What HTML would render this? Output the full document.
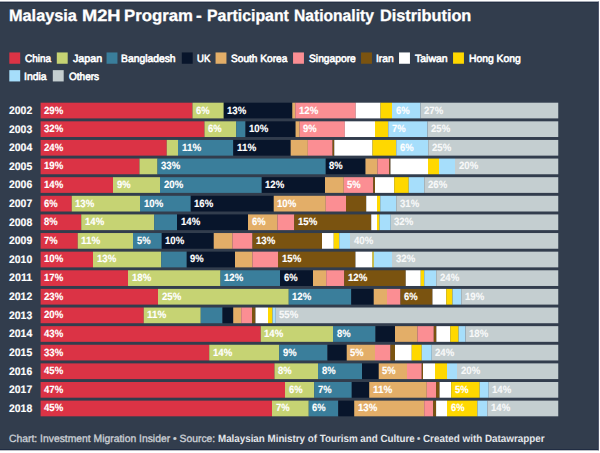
<!DOCTYPE html>
<html><head><meta charset="utf-8"><title>Malaysia M2H Program</title>
<style>
html,body{margin:0;padding:0;}
body{width:600px;height:453px;background:#fff;overflow:hidden;position:relative;font-family:"Liberation Sans",sans-serif;text-rendering:geometricPrecision;}
#c{position:absolute;left:0;top:0;width:600px;height:453px;background:#323d4d;}
#c div,#c span{position:absolute;white-space:nowrap;}
.t{top:6.5px;font-size:16.4px;-webkit-text-stroke:0.3px #fff;font-weight:bold;color:#fff;line-height:18px;transform-origin:0 0;}
.sw{width:10.5px;height:10.5px;}
.lt{font-size:10.5px;color:#fff;-webkit-text-stroke:0.6px #fff;line-height:12px;transform-origin:0 0;}
.y{font-size:10.9px;font-weight:bold;color:#fff;-webkit-text-stroke:0.15px #fff;line-height:12px;left:9.3px;transform-origin:0 0;}
.s{height:15.7px;}
.l{font-size:10.5px;font-weight:bold;color:#fff;-webkit-text-stroke:0.15px #fff;line-height:12px;transform-origin:0 0;}
.f{top:432.7px;font-size:10.5px;color:#c9ced4;-webkit-text-stroke:0.35px #c9ced4;line-height:13px;transform-origin:0 0;}
.fb{color:#e3e6ea;font-weight:bold;-webkit-text-stroke:0;}
</style></head><body><div id="c">
<svg width="600" height="453" viewBox="0 0 600 453" style="position:absolute;left:0;top:0"><rect x="0" y="0" width="600" height="2.6" fill="#1d2840"/><rect x="0" y="0" width="600" height="1.6" fill="#fff"/><rect x="0" y="449.2" width="600" height="3.8" fill="#1d2840"/><rect x="0" y="450.3" width="600" height="2.7" fill="#fff"/><rect x="597.9" y="1.6" width="2.1" height="448.7" fill="#262f48"/><rect x="598.8" y="0" width="1.2" height="453" fill="#fff"/><rect x="9.30" y="52.45" width="10.9" height="11.3" fill="#db3345"/><rect x="56.80" y="52.45" width="10.9" height="11.3" fill="#c6d373"/><rect x="106.55" y="52.45" width="10.9" height="11.3" fill="#3a7e9b"/><rect x="181.80" y="52.45" width="10.9" height="11.3" fill="#08152b"/><rect x="215.55" y="52.45" width="10.9" height="11.3" fill="#e3ae68"/><rect x="293.05" y="52.45" width="10.9" height="11.3" fill="#fb8e93"/><rect x="361.05" y="52.45" width="10.9" height="11.3" fill="#7a5310"/><rect x="399.05" y="52.45" width="10.9" height="11.3" fill="#ffffff"/><rect x="453.05" y="52.45" width="10.9" height="11.3" fill="#ffd800"/><rect x="9.30" y="70.15" width="10.9" height="11.3" fill="#a6defb"/><rect x="52.80" y="70.15" width="10.9" height="11.3" fill="#c4ced0"/><rect x="40.60" y="102.70" width="151.90" height="15.7" fill="#db3345"/><rect x="192.50" y="102.70" width="31.25" height="15.7" fill="#c6d373"/><rect x="223.75" y="102.70" width="68.55" height="15.7" fill="#08152b"/><rect x="292.30" y="102.70" width="3.00" height="15.7" fill="#e3ae68"/><rect x="295.30" y="102.70" width="60.45" height="15.7" fill="#fb8e93"/><rect x="355.75" y="102.70" width="24.75" height="15.7" fill="#ffffff"/><rect x="380.50" y="102.70" width="11.50" height="15.7" fill="#ffd800"/><rect x="392.00" y="102.70" width="28.50" height="15.7" fill="#a6defb"/><rect x="420.50" y="102.70" width="137.75" height="15.7" fill="#c4ced0"/><rect x="40.60" y="121.32" width="163.90" height="15.7" fill="#db3345"/><rect x="204.50" y="121.32" width="31.75" height="15.7" fill="#c6d373"/><rect x="236.25" y="121.32" width="9.25" height="15.7" fill="#3a7e9b"/><rect x="245.50" y="121.32" width="50.10" height="15.7" fill="#08152b"/><rect x="295.60" y="121.32" width="4.00" height="15.7" fill="#e3ae68"/><rect x="299.60" y="121.32" width="45.25" height="15.7" fill="#fb8e93"/><rect x="344.85" y="121.32" width="30.15" height="15.7" fill="#ffffff"/><rect x="375.00" y="121.32" width="13.25" height="15.7" fill="#ffd800"/><rect x="388.25" y="121.32" width="39.25" height="15.7" fill="#a6defb"/><rect x="427.50" y="121.32" width="130.75" height="15.7" fill="#c4ced0"/><rect x="40.60" y="139.94" width="126.15" height="15.7" fill="#db3345"/><rect x="166.75" y="139.94" width="11.25" height="15.7" fill="#c6d373"/><rect x="178.00" y="139.94" width="55.25" height="15.7" fill="#3a7e9b"/><rect x="233.25" y="139.94" width="57.45" height="15.7" fill="#08152b"/><rect x="290.70" y="139.94" width="17.15" height="15.7" fill="#e3ae68"/><rect x="307.85" y="139.94" width="24.75" height="15.7" fill="#fb8e93"/><rect x="332.60" y="139.94" width="1.70" height="15.7" fill="#7a5310"/><rect x="334.30" y="139.94" width="38.20" height="15.7" fill="#ffffff"/><rect x="372.50" y="139.94" width="23.75" height="15.7" fill="#ffd800"/><rect x="396.25" y="139.94" width="32.00" height="15.7" fill="#a6defb"/><rect x="428.25" y="139.94" width="130.00" height="15.7" fill="#c4ced0"/><rect x="40.60" y="158.56" width="98.90" height="15.7" fill="#db3345"/><rect x="139.50" y="158.56" width="18.00" height="15.7" fill="#c6d373"/><rect x="157.50" y="158.56" width="168.25" height="15.7" fill="#3a7e9b"/><rect x="325.75" y="158.56" width="39.75" height="15.7" fill="#08152b"/><rect x="365.50" y="158.56" width="12.00" height="15.7" fill="#e3ae68"/><rect x="377.50" y="158.56" width="11.75" height="15.7" fill="#fb8e93"/><rect x="389.25" y="158.56" width="1.25" height="15.7" fill="#7a5310"/><rect x="390.50" y="158.56" width="37.50" height="15.7" fill="#ffffff"/><rect x="428.00" y="158.56" width="11.00" height="15.7" fill="#ffd800"/><rect x="439.00" y="158.56" width="16.00" height="15.7" fill="#a6defb"/><rect x="455.00" y="158.56" width="103.25" height="15.7" fill="#c4ced0"/><rect x="40.60" y="177.18" width="72.40" height="15.7" fill="#db3345"/><rect x="113.00" y="177.18" width="47.00" height="15.7" fill="#c6d373"/><rect x="160.00" y="177.18" width="101.75" height="15.7" fill="#3a7e9b"/><rect x="261.75" y="177.18" width="63.25" height="15.7" fill="#08152b"/><rect x="325.00" y="177.18" width="18.75" height="15.7" fill="#e3ae68"/><rect x="343.75" y="177.18" width="29.50" height="15.7" fill="#fb8e93"/><rect x="373.25" y="177.18" width="1.75" height="15.7" fill="#7a5310"/><rect x="375.00" y="177.18" width="19.25" height="15.7" fill="#ffffff"/><rect x="394.25" y="177.18" width="14.50" height="15.7" fill="#ffd800"/><rect x="408.75" y="177.18" width="15.50" height="15.7" fill="#a6defb"/><rect x="424.25" y="177.18" width="134.00" height="15.7" fill="#c4ced0"/><rect x="40.60" y="195.80" width="31.15" height="15.7" fill="#db3345"/><rect x="71.75" y="195.80" width="68.25" height="15.7" fill="#c6d373"/><rect x="140.00" y="195.80" width="50.75" height="15.7" fill="#3a7e9b"/><rect x="190.75" y="195.80" width="83.00" height="15.7" fill="#08152b"/><rect x="273.75" y="195.80" width="52.00" height="15.7" fill="#e3ae68"/><rect x="325.75" y="195.80" width="20.25" height="15.7" fill="#fb8e93"/><rect x="346.00" y="195.80" width="20.25" height="15.7" fill="#7a5310"/><rect x="366.25" y="195.80" width="10.75" height="15.7" fill="#ffffff"/><rect x="377.00" y="195.80" width="3.25" height="15.7" fill="#ffd800"/><rect x="380.25" y="195.80" width="16.00" height="15.7" fill="#a6defb"/><rect x="396.25" y="195.80" width="162.00" height="15.7" fill="#c4ced0"/><rect x="40.60" y="214.42" width="40.65" height="15.7" fill="#db3345"/><rect x="81.25" y="214.42" width="73.00" height="15.7" fill="#c6d373"/><rect x="154.25" y="214.42" width="22.75" height="15.7" fill="#3a7e9b"/><rect x="177.00" y="214.42" width="71.00" height="15.7" fill="#08152b"/><rect x="248.00" y="214.42" width="29.50" height="15.7" fill="#e3ae68"/><rect x="277.50" y="214.42" width="16.75" height="15.7" fill="#fb8e93"/><rect x="294.25" y="214.42" width="77.00" height="15.7" fill="#7a5310"/><rect x="371.25" y="214.42" width="5.75" height="15.7" fill="#ffffff"/><rect x="377.00" y="214.42" width="2.50" height="15.7" fill="#ffd800"/><rect x="379.50" y="214.42" width="11.25" height="15.7" fill="#a6defb"/><rect x="390.75" y="214.42" width="167.50" height="15.7" fill="#c4ced0"/><rect x="40.60" y="233.04" width="37.15" height="15.7" fill="#db3345"/><rect x="77.75" y="233.04" width="55.25" height="15.7" fill="#c6d373"/><rect x="133.00" y="233.04" width="28.75" height="15.7" fill="#3a7e9b"/><rect x="161.75" y="233.04" width="52.00" height="15.7" fill="#08152b"/><rect x="213.75" y="233.04" width="18.75" height="15.7" fill="#e3ae68"/><rect x="232.50" y="233.04" width="20.00" height="15.7" fill="#fb8e93"/><rect x="252.50" y="233.04" width="69.50" height="15.7" fill="#7a5310"/><rect x="322.00" y="233.04" width="11.75" height="15.7" fill="#ffffff"/><rect x="333.75" y="233.04" width="5.50" height="15.7" fill="#ffd800"/><rect x="339.25" y="233.04" width="10.75" height="15.7" fill="#a6defb"/><rect x="350.00" y="233.04" width="208.25" height="15.7" fill="#c4ced0"/><rect x="40.60" y="251.66" width="52.40" height="15.7" fill="#db3345"/><rect x="93.00" y="251.66" width="68.25" height="15.7" fill="#c6d373"/><rect x="161.25" y="251.66" width="25.50" height="15.7" fill="#3a7e9b"/><rect x="186.75" y="251.66" width="48.25" height="15.7" fill="#08152b"/><rect x="235.00" y="251.66" width="17.50" height="15.7" fill="#e3ae68"/><rect x="252.50" y="251.66" width="25.50" height="15.7" fill="#fb8e93"/><rect x="278.00" y="251.66" width="77.50" height="15.7" fill="#7a5310"/><rect x="355.50" y="251.66" width="17.00" height="15.7" fill="#ffffff"/><rect x="372.50" y="251.66" width="1.25" height="15.7" fill="#ffd800"/><rect x="373.75" y="251.66" width="18.25" height="15.7" fill="#a6defb"/><rect x="392.00" y="251.66" width="166.25" height="15.7" fill="#c4ced0"/><rect x="40.60" y="270.28" width="87.40" height="15.7" fill="#db3345"/><rect x="128.00" y="270.28" width="92.50" height="15.7" fill="#c6d373"/><rect x="220.50" y="270.28" width="59.50" height="15.7" fill="#3a7e9b"/><rect x="280.00" y="270.28" width="33.00" height="15.7" fill="#08152b"/><rect x="313.00" y="270.28" width="13.25" height="15.7" fill="#e3ae68"/><rect x="326.25" y="270.28" width="18.00" height="15.7" fill="#fb8e93"/><rect x="344.25" y="270.28" width="61.50" height="15.7" fill="#7a5310"/><rect x="405.75" y="270.28" width="15.00" height="15.7" fill="#ffffff"/><rect x="420.75" y="270.28" width="3.50" height="15.7" fill="#ffd800"/><rect x="424.25" y="270.28" width="12.00" height="15.7" fill="#a6defb"/><rect x="436.25" y="270.28" width="122.00" height="15.7" fill="#c4ced0"/><rect x="40.60" y="288.90" width="117.40" height="15.7" fill="#db3345"/><rect x="158.00" y="288.90" width="130.75" height="15.7" fill="#c6d373"/><rect x="288.75" y="288.90" width="62.50" height="15.7" fill="#3a7e9b"/><rect x="351.25" y="288.90" width="22.50" height="15.7" fill="#08152b"/><rect x="373.75" y="288.90" width="13.25" height="15.7" fill="#e3ae68"/><rect x="387.00" y="288.90" width="13.50" height="15.7" fill="#fb8e93"/><rect x="400.50" y="288.90" width="32.00" height="15.7" fill="#7a5310"/><rect x="432.50" y="288.90" width="13.75" height="15.7" fill="#ffffff"/><rect x="446.25" y="288.90" width="6.25" height="15.7" fill="#ffd800"/><rect x="452.50" y="288.90" width="8.75" height="15.7" fill="#a6defb"/><rect x="461.25" y="288.90" width="97.00" height="15.7" fill="#c4ced0"/><rect x="40.60" y="307.52" width="103.15" height="15.7" fill="#db3345"/><rect x="143.75" y="307.52" width="57.00" height="15.7" fill="#c6d373"/><rect x="200.75" y="307.52" width="21.75" height="15.7" fill="#3a7e9b"/><rect x="222.50" y="307.52" width="10.75" height="15.7" fill="#08152b"/><rect x="233.25" y="307.52" width="8.00" height="15.7" fill="#e3ae68"/><rect x="241.25" y="307.52" width="10.75" height="15.7" fill="#fb8e93"/><rect x="252.00" y="307.52" width="3.50" height="15.7" fill="#7a5310"/><rect x="255.50" y="307.52" width="12.50" height="15.7" fill="#ffffff"/><rect x="268.00" y="307.52" width="4.50" height="15.7" fill="#ffd800"/><rect x="272.50" y="307.52" width="3.25" height="15.7" fill="#a6defb"/><rect x="275.75" y="307.52" width="282.50" height="15.7" fill="#c4ced0"/><rect x="40.60" y="326.14" width="220.15" height="15.7" fill="#db3345"/><rect x="260.75" y="326.14" width="72.25" height="15.7" fill="#c6d373"/><rect x="333.00" y="326.14" width="42.50" height="15.7" fill="#3a7e9b"/><rect x="375.50" y="326.14" width="19.50" height="15.7" fill="#08152b"/><rect x="395.00" y="326.14" width="22.50" height="15.7" fill="#e3ae68"/><rect x="417.50" y="326.14" width="16.30" height="15.7" fill="#fb8e93"/><rect x="433.80" y="326.14" width="2.60" height="15.7" fill="#7a5310"/><rect x="436.40" y="326.14" width="13.90" height="15.7" fill="#ffffff"/><rect x="450.30" y="326.14" width="8.30" height="15.7" fill="#ffd800"/><rect x="458.60" y="326.14" width="6.90" height="15.7" fill="#a6defb"/><rect x="465.50" y="326.14" width="92.75" height="15.7" fill="#c4ced0"/><rect x="40.60" y="344.76" width="168.65" height="15.7" fill="#db3345"/><rect x="209.25" y="344.76" width="70.00" height="15.7" fill="#c6d373"/><rect x="279.25" y="344.76" width="48.25" height="15.7" fill="#3a7e9b"/><rect x="327.50" y="344.76" width="19.25" height="15.7" fill="#08152b"/><rect x="346.75" y="344.76" width="28.25" height="15.7" fill="#e3ae68"/><rect x="375.00" y="344.76" width="15.50" height="15.7" fill="#fb8e93"/><rect x="390.50" y="344.76" width="4.50" height="15.7" fill="#7a5310"/><rect x="395.00" y="344.76" width="16.75" height="15.7" fill="#ffffff"/><rect x="411.75" y="344.76" width="10.00" height="15.7" fill="#ffd800"/><rect x="421.75" y="344.76" width="10.00" height="15.7" fill="#a6defb"/><rect x="431.75" y="344.76" width="126.50" height="15.7" fill="#c4ced0"/><rect x="40.60" y="363.38" width="233.90" height="15.7" fill="#db3345"/><rect x="274.50" y="363.38" width="43.50" height="15.7" fill="#c6d373"/><rect x="318.00" y="363.38" width="44.00" height="15.7" fill="#3a7e9b"/><rect x="362.00" y="363.38" width="16.75" height="15.7" fill="#08152b"/><rect x="378.75" y="363.38" width="28.25" height="15.7" fill="#e3ae68"/><rect x="407.00" y="363.38" width="14.75" height="15.7" fill="#fb8e93"/><rect x="421.75" y="363.38" width="1.25" height="15.7" fill="#7a5310"/><rect x="423.00" y="363.38" width="12.00" height="15.7" fill="#ffffff"/><rect x="435.00" y="363.38" width="12.00" height="15.7" fill="#ffd800"/><rect x="447.00" y="363.38" width="10.00" height="15.7" fill="#a6defb"/><rect x="457.00" y="363.38" width="101.25" height="15.7" fill="#c4ced0"/><rect x="40.60" y="382.00" width="244.40" height="15.7" fill="#db3345"/><rect x="285.00" y="382.00" width="29.25" height="15.7" fill="#c6d373"/><rect x="314.25" y="382.00" width="37.50" height="15.7" fill="#3a7e9b"/><rect x="351.75" y="382.00" width="17.50" height="15.7" fill="#08152b"/><rect x="369.25" y="382.00" width="57.50" height="15.7" fill="#e3ae68"/><rect x="426.75" y="382.00" width="9.35" height="15.7" fill="#fb8e93"/><rect x="436.10" y="382.00" width="3.50" height="15.7" fill="#7a5310"/><rect x="439.60" y="382.00" width="11.60" height="15.7" fill="#ffffff"/><rect x="451.20" y="382.00" width="28.50" height="15.7" fill="#ffd800"/><rect x="479.70" y="382.00" width="9.00" height="15.7" fill="#a6defb"/><rect x="488.70" y="382.00" width="69.55" height="15.7" fill="#c4ced0"/><rect x="40.60" y="400.62" width="231.40" height="15.7" fill="#db3345"/><rect x="272.00" y="400.62" width="36.75" height="15.7" fill="#c6d373"/><rect x="308.75" y="400.62" width="29.50" height="15.7" fill="#3a7e9b"/><rect x="338.25" y="400.62" width="16.00" height="15.7" fill="#08152b"/><rect x="354.25" y="400.62" width="70.00" height="15.7" fill="#e3ae68"/><rect x="424.25" y="400.62" width="8.95" height="15.7" fill="#fb8e93"/><rect x="433.20" y="400.62" width="2.90" height="15.7" fill="#7a5310"/><rect x="436.10" y="400.62" width="10.90" height="15.7" fill="#ffffff"/><rect x="447.00" y="400.62" width="30.40" height="15.7" fill="#ffd800"/><rect x="477.40" y="400.62" width="9.90" height="15.7" fill="#a6defb"/><rect x="487.30" y="400.62" width="70.95" height="15.7" fill="#c4ced0"/></svg>
<span class="t" style="transform:scaleX(0.9935);left:9.40px">Malaysia</span><span class="t" style="transform:scaleX(1.1124);left:82.10px">M2H</span><span class="t" style="transform:scaleX(1.0222);left:124.40px">Program</span><span class="t" style="transform:scaleX(1.0606);left:195.80px">-</span><span class="t" style="transform:scaleX(0.9667);left:206.70px">Participant</span><span class="t" style="transform:scaleX(0.9535);left:294.40px">Nationality</span><span class="t" style="transform:scaleX(0.9927);left:380.10px">Distribution</span>
<span class="lt" style="transform:scaleX(0.9476);left:24.90px;top:52.85px">China</span>
<span class="lt" style="transform:scaleX(1.0206);left:72.60px;top:52.85px">Japan</span>
<span class="lt" style="transform:scaleX(0.9843);left:121.30px;top:52.85px">Bangladesh</span>
<span class="lt" style="transform:scaleX(0.9113);left:197.20px;top:52.85px">UK</span>
<span class="lt" style="transform:scaleX(0.9642);left:231.40px;top:52.85px">South Korea</span>
<span class="lt" style="transform:scaleX(0.9775);left:308.50px;top:52.85px">Singapore</span>
<span class="lt" style="transform:scaleX(0.9727);left:375.90px;top:52.85px">Iran</span>
<span class="lt" style="transform:scaleX(0.9973);left:414.90px;top:52.85px">Taiwan</span>
<span class="lt" style="transform:scaleX(0.9858);left:468.70px;top:52.85px">Hong Kong</span>
<span class="lt" style="transform:scaleX(0.9920);left:24.30px;top:71.25px">India</span>
<span class="lt" style="transform:scaleX(0.9567);left:68.65px;top:71.25px">Others</span>
<span class="y" style="transform:scaleX(0.9573);top:104.90px">2002</span><span class="l" style="transform:scaleX(0.9136);left:44.10px;top:104.50px">29%</span><span class="l" style="transform:scaleX(0.8955);left:196.00px;top:104.50px">6%</span><span class="l" style="transform:scaleX(0.9136);left:227.25px;top:104.50px">13%</span><span class="l" style="transform:scaleX(0.9136);left:298.80px;top:104.50px">12%</span><span class="l" style="transform:scaleX(0.8955);left:395.50px;top:104.50px">6%</span><span class="l" style="transform:scaleX(0.9136);left:424.00px;top:104.50px;opacity:.88">27%</span>
<span class="y" style="transform:scaleX(0.9573);top:123.52px">2003</span><span class="l" style="transform:scaleX(0.9136);left:44.10px;top:123.12px">32%</span><span class="l" style="transform:scaleX(0.8955);left:208.00px;top:123.12px">6%</span><span class="l" style="transform:scaleX(0.9136);left:249.00px;top:123.12px">10%</span><span class="l" style="transform:scaleX(0.8955);left:303.10px;top:123.12px">9%</span><span class="l" style="transform:scaleX(0.8955);left:391.75px;top:123.12px">7%</span><span class="l" style="transform:scaleX(0.9136);left:431.00px;top:123.12px;opacity:.88">25%</span>
<span class="y" style="transform:scaleX(0.9573);top:142.14px">2004</span><span class="l" style="transform:scaleX(0.9136);left:44.10px;top:141.74px">24%</span><span class="l" style="transform:scaleX(0.9394);left:181.50px;top:141.74px">11%</span><span class="l" style="transform:scaleX(0.9394);left:236.75px;top:141.74px">11%</span><span class="l" style="transform:scaleX(0.8955);left:399.75px;top:141.74px">6%</span><span class="l" style="transform:scaleX(0.9136);left:431.75px;top:141.74px;opacity:.88">25%</span>
<span class="y" style="transform:scaleX(0.9573);top:160.76px">2005</span><span class="l" style="transform:scaleX(0.9136);left:44.10px;top:160.36px">19%</span><span class="l" style="transform:scaleX(0.9136);left:161.00px;top:160.36px">33%</span><span class="l" style="transform:scaleX(0.8955);left:329.25px;top:160.36px">8%</span><span class="l" style="transform:scaleX(0.9136);left:458.50px;top:160.36px;opacity:.88">20%</span>
<span class="y" style="transform:scaleX(0.9573);top:179.38px">2006</span><span class="l" style="transform:scaleX(0.9136);left:44.10px;top:178.98px">14%</span><span class="l" style="transform:scaleX(0.8955);left:116.50px;top:178.98px">9%</span><span class="l" style="transform:scaleX(0.9136);left:163.50px;top:178.98px">20%</span><span class="l" style="transform:scaleX(0.9136);left:265.25px;top:178.98px">12%</span><span class="l" style="transform:scaleX(0.8955);left:347.25px;top:178.98px">5%</span><span class="l" style="transform:scaleX(0.9136);left:427.75px;top:178.98px;opacity:.88">26%</span>
<span class="y" style="transform:scaleX(0.9573);top:198.00px">2007</span><span class="l" style="transform:scaleX(0.8955);left:44.10px;top:197.60px">6%</span><span class="l" style="transform:scaleX(0.9136);left:75.25px;top:197.60px">13%</span><span class="l" style="transform:scaleX(0.9136);left:143.50px;top:197.60px">10%</span><span class="l" style="transform:scaleX(0.9136);left:194.25px;top:197.60px">16%</span><span class="l" style="transform:scaleX(0.9136);left:277.25px;top:197.60px">10%</span><span class="l" style="transform:scaleX(0.9136);left:399.75px;top:197.60px;opacity:.88">31%</span>
<span class="y" style="transform:scaleX(0.9573);top:216.62px">2008</span><span class="l" style="transform:scaleX(0.8955);left:44.10px;top:216.22px">8%</span><span class="l" style="transform:scaleX(0.9136);left:84.75px;top:216.22px">14%</span><span class="l" style="transform:scaleX(0.9136);left:180.50px;top:216.22px">14%</span><span class="l" style="transform:scaleX(0.8955);left:251.50px;top:216.22px">6%</span><span class="l" style="transform:scaleX(0.9136);left:297.75px;top:216.22px">15%</span><span class="l" style="transform:scaleX(0.9136);left:394.25px;top:216.22px;opacity:.88">32%</span>
<span class="y" style="transform:scaleX(0.9573);top:235.24px">2009</span><span class="l" style="transform:scaleX(0.8955);left:44.10px;top:234.84px">7%</span><span class="l" style="transform:scaleX(0.9394);left:81.25px;top:234.84px">11%</span><span class="l" style="transform:scaleX(0.8955);left:136.50px;top:234.84px">5%</span><span class="l" style="transform:scaleX(0.9136);left:165.25px;top:234.84px">10%</span><span class="l" style="transform:scaleX(0.9136);left:256.00px;top:234.84px">13%</span><span class="l" style="transform:scaleX(0.9136);left:353.50px;top:234.84px;opacity:.88">40%</span>
<span class="y" style="transform:scaleX(0.9573);top:253.86px">2010</span><span class="l" style="transform:scaleX(0.9136);left:44.10px;top:253.46px">10%</span><span class="l" style="transform:scaleX(0.9136);left:96.50px;top:253.46px">13%</span><span class="l" style="transform:scaleX(0.8955);left:190.25px;top:253.46px">9%</span><span class="l" style="transform:scaleX(0.9136);left:281.50px;top:253.46px">15%</span><span class="l" style="transform:scaleX(0.9136);left:395.50px;top:253.46px;opacity:.88">32%</span>
<span class="y" style="transform:scaleX(0.9814);top:272.48px">2011</span><span class="l" style="transform:scaleX(0.9136);left:44.10px;top:272.08px">17%</span><span class="l" style="transform:scaleX(0.9136);left:131.50px;top:272.08px">18%</span><span class="l" style="transform:scaleX(0.9136);left:224.00px;top:272.08px">12%</span><span class="l" style="transform:scaleX(0.8955);left:283.50px;top:272.08px">6%</span><span class="l" style="transform:scaleX(0.9136);left:347.75px;top:272.08px">12%</span><span class="l" style="transform:scaleX(0.9136);left:439.75px;top:272.08px;opacity:.88">24%</span>
<span class="y" style="transform:scaleX(0.9573);top:291.10px">2012</span><span class="l" style="transform:scaleX(0.9136);left:44.10px;top:290.70px">23%</span><span class="l" style="transform:scaleX(0.9136);left:161.50px;top:290.70px">25%</span><span class="l" style="transform:scaleX(0.9136);left:292.25px;top:290.70px">12%</span><span class="l" style="transform:scaleX(0.8955);left:404.00px;top:290.70px">6%</span><span class="l" style="transform:scaleX(0.9136);left:464.75px;top:290.70px;opacity:.88">19%</span>
<span class="y" style="transform:scaleX(0.9573);top:309.72px">2013</span><span class="l" style="transform:scaleX(0.9136);left:44.10px;top:309.32px">20%</span><span class="l" style="transform:scaleX(0.9394);left:147.25px;top:309.32px">11%</span><span class="l" style="transform:scaleX(0.9136);left:279.25px;top:309.32px;opacity:.88">55%</span>
<span class="y" style="transform:scaleX(0.9573);top:328.34px">2014</span><span class="l" style="transform:scaleX(0.9136);left:44.10px;top:327.94px">43%</span><span class="l" style="transform:scaleX(0.9136);left:264.25px;top:327.94px">14%</span><span class="l" style="transform:scaleX(0.8955);left:336.50px;top:327.94px">8%</span><span class="l" style="transform:scaleX(0.9136);left:469.00px;top:327.94px;opacity:.88">18%</span>
<span class="y" style="transform:scaleX(0.9573);top:346.96px">2015</span><span class="l" style="transform:scaleX(0.9136);left:44.10px;top:346.56px">33%</span><span class="l" style="transform:scaleX(0.9136);left:212.75px;top:346.56px">14%</span><span class="l" style="transform:scaleX(0.8955);left:282.75px;top:346.56px">9%</span><span class="l" style="transform:scaleX(0.8955);left:350.25px;top:346.56px">5%</span><span class="l" style="transform:scaleX(0.9136);left:435.25px;top:346.56px;opacity:.88">24%</span>
<span class="y" style="transform:scaleX(0.9573);top:365.58px">2016</span><span class="l" style="transform:scaleX(0.9136);left:44.10px;top:365.18px">45%</span><span class="l" style="transform:scaleX(0.8955);left:278.00px;top:365.18px">8%</span><span class="l" style="transform:scaleX(0.8955);left:321.50px;top:365.18px">8%</span><span class="l" style="transform:scaleX(0.8955);left:382.25px;top:365.18px">5%</span><span class="l" style="transform:scaleX(0.9136);left:460.50px;top:365.18px;opacity:.88">20%</span>
<span class="y" style="transform:scaleX(0.9573);top:384.20px">2017</span><span class="l" style="transform:scaleX(0.9136);left:44.10px;top:383.80px">47%</span><span class="l" style="transform:scaleX(0.8955);left:288.50px;top:383.80px">6%</span><span class="l" style="transform:scaleX(0.8955);left:317.75px;top:383.80px">7%</span><span class="l" style="transform:scaleX(0.9394);left:372.75px;top:383.80px">11%</span><span class="l" style="transform:scaleX(0.8955);left:454.70px;top:383.80px">5%</span><span class="l" style="transform:scaleX(0.9136);left:492.20px;top:383.80px;opacity:.88">14%</span>
<span class="y" style="transform:scaleX(0.9573);top:402.82px">2018</span><span class="l" style="transform:scaleX(0.9136);left:44.10px;top:402.42px">45%</span><span class="l" style="transform:scaleX(0.8955);left:275.50px;top:402.42px">7%</span><span class="l" style="transform:scaleX(0.8955);left:312.25px;top:402.42px">6%</span><span class="l" style="transform:scaleX(0.9136);left:357.75px;top:402.42px">13%</span><span class="l" style="transform:scaleX(0.8955);left:450.50px;top:402.42px">6%</span><span class="l" style="transform:scaleX(0.9136);left:490.80px;top:402.42px;opacity:.88">14%</span>
<span class="f" style="transform:scaleX(0.9861);left:9.3px">Chart: Investment Migration Insider • Source:</span><span class="f fb" style="transform:scaleX(0.9322);left:217.5px">Malaysian Ministry of Tourism and Culture</span><span class="f" style="transform:scaleX(0.8678);left:417.2px">•</span><span class="f fb" style="transform:scaleX(0.9394);left:422.5px">Created with Datawrapper</span>
</div></body></html>
